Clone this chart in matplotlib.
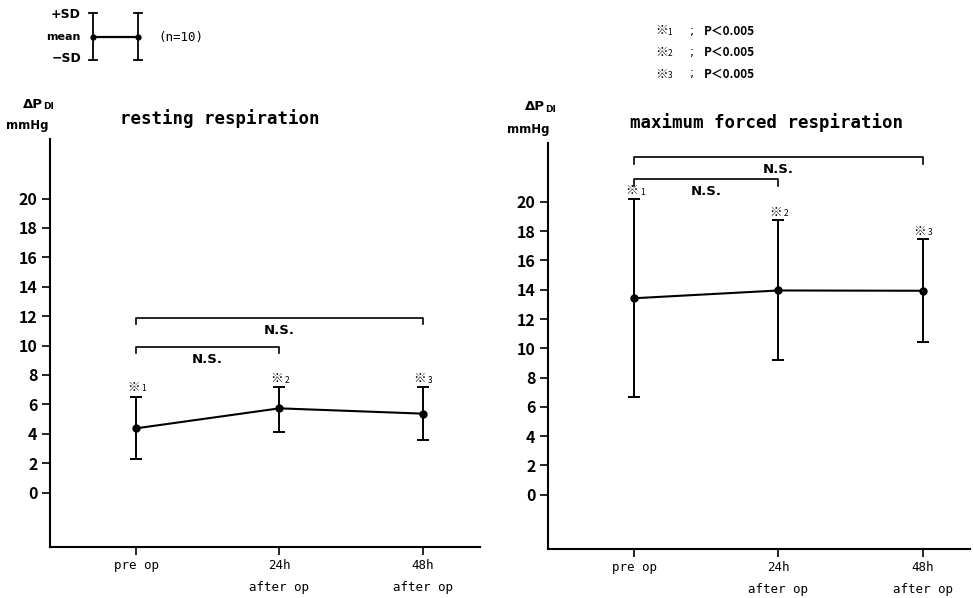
import matplotlib
matplotlib.use("Agg")
import matplotlib.pyplot as plt

plt.rcParams['font.family'] = ['Noto Sans CJK JP', 'DejaVu Sans']

# ---------------- data ----------------
categories = ["pre op", "24h\nafter op", "48h\nafter op"]
rest_mean = [4.37, 5.73, 5.37]
rest_upper = [6.52, 7.18, 7.20]
rest_lower = [2.31, 4.14, 3.60]
max_mean = [13.42, 13.95, 13.93]
max_upper = [20.18, 18.75, 17.47]
max_lower = [6.64, 9.20, 10.44]
yticks = [0, 2, 4, 6, 8, 10, 12, 14, 16, 18, 20]
titles = ["resting respiration", "maximum forced respiration"]
sig_marks = ["※", "※", "※"]
sig_subs = ["1", "2", "3"]
pvalues = ["P＜0.005", "P＜0.005", "P＜0.005"]
ns_label = "N.S."

MONO = ['DejaVu Sans Mono', 'DejaVu Sans']
NARROW = ['Noto Sans CJK JP', 'DejaVu Sans']

fig = plt.figure(figsize=(9.73, 5.98), dpi=100)

def draw_panel(rect, mean, upper, lower, title, xmax, brackets, mark_y, title_xy, ylab_xy, mm_xy):
    ax = fig.add_axes(rect)
    x = list(range(len(categories)))
    yerr = [[m - l for m, l in zip(mean, lower)], [u - m for m, u in zip(mean, upper)]]
    ax.errorbar(x, mean, yerr=yerr, color='black', lw=1.5, elinewidth=1.4,
                capsize=4, capthick=1.4, marker='o', ms=5, mfc='black', mec='black')
    ax.set_xlim(-0.6, xmax)
    ax.set_ylim(-3.7, 24.05)
    ax.set_yticks(yticks)
    ax.set_yticklabels([str(v) for v in yticks], fontsize=11.5, fontweight='bold',
                       family=NARROW)
    ax.set_xticks(x)
    ax.set_xticklabels(categories, fontsize=9, linespacing=1.9, family=MONO)
    for s in ['top', 'right']:
        ax.spines[s].set_visible(False)
    for s in ['left', 'bottom']:
        ax.spines[s].set_linewidth(1.5)
    ax.tick_params(axis='both', direction='out', width=1.2, length=6, pad=3)
    # brackets
    for (i0, i1, h) in brackets:
        ax.plot([i0, i0, i1, i1], [h - 0.45, h, h, h - 0.45], color='black', lw=1.2)
        ax.text((i0 + i1) / 2, h - 0.85, ns_label, ha='center', va='center',
                fontsize=9.5, fontweight='bold', family='DejaVu Sans')
    # significance marks
    for i, (mk, sb) in enumerate(zip(sig_marks, sig_subs)):
        ax.text(i - 0.02, mark_y[i], mk, ha='center', va='center', fontsize=9)
        ax.text(i + 0.055, mark_y[i] - 0.1, sb, ha='center', va='center', fontsize=6)
    fig.text(title_xy[0], title_xy[1], title, ha='center', va='center',
             fontsize=12.5, family=MONO, fontweight='bold')
    fig.text(ylab_xy[0], ylab_xy[1], "ΔP", ha='right', va='center', fontsize=9.5,
             family='DejaVu Sans', fontweight='bold')
    fig.text(ylab_xy[0], ylab_xy[1] - 0.004, "DI", ha='left', va='center',
             fontsize=6.5, family='DejaVu Sans', fontweight='bold')
    fig.text(mm_xy[0], mm_xy[1], "mmHg", ha='center', va='center',
             fontsize=8.5, family='DejaVu Sans', fontweight='bold')
    return ax

draw_panel([0.0514, 0.0853, 0.4419, 0.6823], rest_mean, rest_upper, rest_lower,
           titles[0], 2.4, [(0, 2, 11.9), (0, 1, 9.92)], [7.17, 7.74, 7.74],
           (220 / 973, 1 - 119 / 598), (43 / 973, 1 - 104 / 598), (27 / 973, 1 - 125 / 598))
draw_panel([0.5632, 0.0824, 0.4338, 0.6790], max_mean, max_upper, max_lower,
           titles[1], 2.33, [(0, 2, 23.04), (0, 1, 21.55)], [20.75, 19.3, 18.0],
           (767 / 973, 1 - 123 / 598), (545 / 973, 1 - 107 / 598), (528 / 973, 1 - 129 / 598))

# ---------------- SD legend ----------------
lax = fig.add_axes([0.0, 0.85, 0.3, 0.15])
lax.set_xlim(0, 292)
lax.set_ylim(89.7, 0)
lax.axis('off')
for xx in [93, 138]:
    lax.plot([xx, xx], [13, 60], color='black', lw=1.3)
    lax.plot([xx - 4, xx + 4], [13, 13], color='black', lw=1.3)
    lax.plot([xx - 4, xx + 4], [60, 60], color='black', lw=1.3)
lax.plot([93, 138], [37, 37], color='black', lw=1.6, marker='o', ms=3.5)
lax.text(81, 15, "+SD", ha='right', va='center', fontsize=9, fontweight='bold', family='DejaVu Sans')
lax.text(81, 37, "mean", ha='right', va='center', fontsize=8, family='DejaVu Sans', fontweight='bold')
lax.text(81, 59, "−SD", ha='right', va='center', fontsize=9, fontweight='bold', family='DejaVu Sans')
lax.text(158, 37, "(n=10)", ha='left', va='center', fontsize=9, family=MONO)

# ---------------- p-values ----------------
for i, (mk, sb, pv) in enumerate(zip(sig_marks, sig_subs, pvalues)):
    yy = 1 - (31 + 21.5 * i) / 598
    fig.text(662 / 973, yy, mk, ha='center', va='center', fontsize=9)
    fig.text(670 / 973, yy - 0.002, sb, ha='center', va='center', fontsize=6)
    fig.text(692 / 973, yy, ";", ha='center', va='center', fontsize=9, family='DejaVu Sans')
    fig.text(704 / 973, yy, pv, ha='left', va='center', fontsize=8.5, fontweight='bold')

fig.savefig("out.png", dpi=100)
